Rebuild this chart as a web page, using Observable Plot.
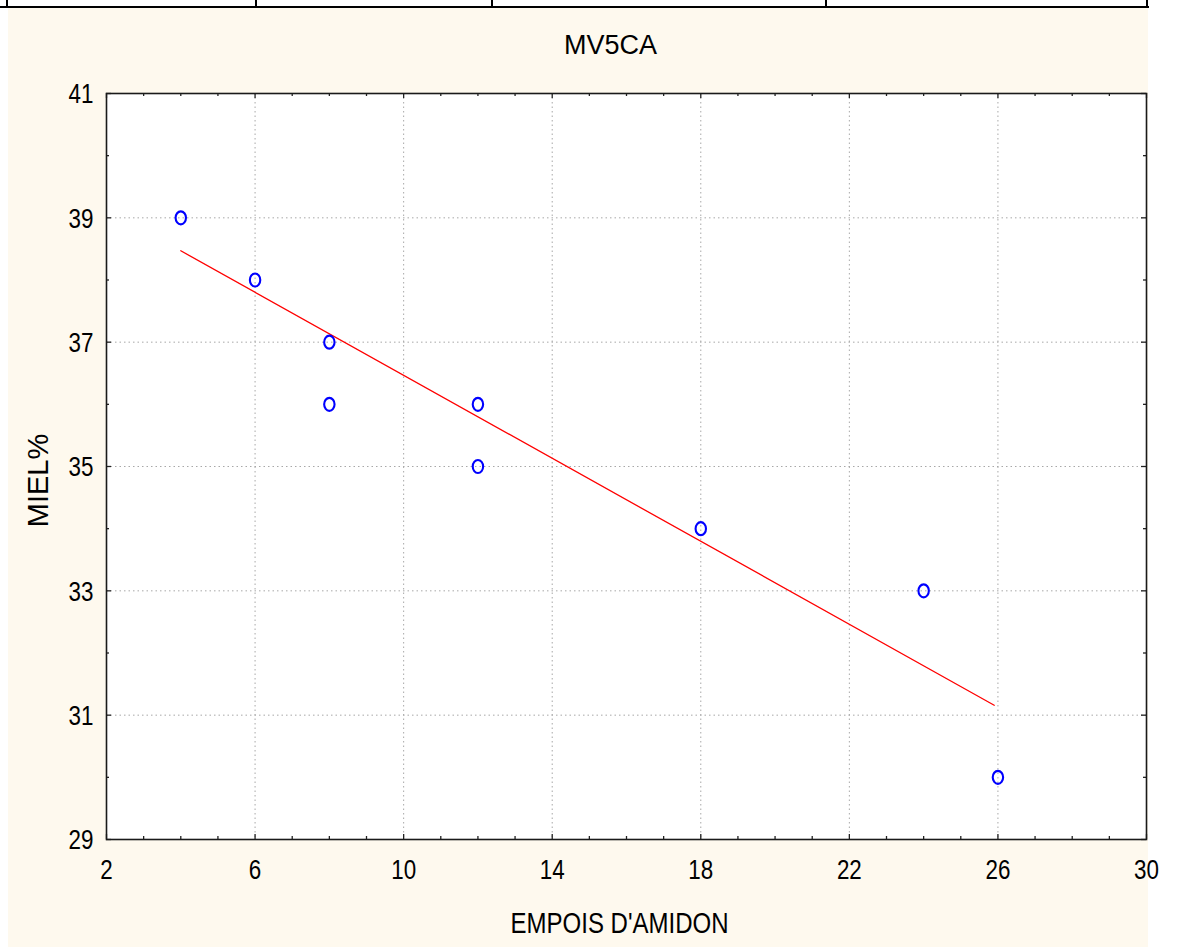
<!DOCTYPE html>
<html>
<head>
<meta charset="utf-8">
<script src="https://cdn.jsdelivr.net/npm/d3@7"></script>
<script src="https://cdn.jsdelivr.net/npm/@observablehq/plot@0.6"></script>
<style>
  html, body { margin: 0; padding: 0; background: #ffffff; }
  body { width: 1179px; height: 947px; position: relative; overflow: hidden; }
  .hline { position: absolute; left: 0; top: 6px; width: 1149px; height: 2px; background: #000; }
  .vline { position: absolute; top: 0; width: 2px; height: 8px; background: #000; }
  #panel { position: absolute; left: 8px; top: 8px; width: 1140px; height: 939px; background: #FEF9EE; }
  #chart { position: absolute; left: 0; top: 0; }
</style>
</head>
<body>
<div class="hline"></div>
<div class="vline" style="left:6px"></div>
<div class="vline" style="left:255px"></div>
<div class="vline" style="left:491px"></div>
<div class="vline" style="left:825px"></div>
<div class="vline" style="left:1146px"></div>
<div id="panel"><div id="chart"></div></div>
<script>
// ---- data ----
const chartTitle = "MV5CA";
const xLabel = "EMPOIS D'AMIDON";
const yLabel = "MIEL%";
const empois = [4, 6, 8, 8, 12, 12, 18, 24, 26];
const miel   = [39, 38, 37, 36, 36, 35, 34, 33, 30];
// fitted line end points
const fitX = [4, 25.9];
const fitY = [38.47, 31.16];
// ticks
const xMajor = [2, 6, 10, 14, 18, 22, 26, 30];
const yMajor = [29, 31, 33, 35, 37, 39, 41];
const xGrid = [6, 10, 14, 18, 22, 26];
const yGrid = [31, 33, 35, 37, 39];
const xMinor = [3, 4, 5, 7, 8, 9, 11, 12, 13, 15, 16, 17, 19, 20, 21, 23, 24, 25, 27, 28, 29];
const yMinor = [30, 32, 34, 36, 38, 40];

const points = empois.map((x, i) => ({x, y: miel[i]}));
const fit = fitX.map((x, i) => ({x, y: fitY[i]}));

const W = 1140, H = 939;
const mL = 98, mR = 2, mT = 85, mB = 108;
const FW = W - mL - mR, FH = H - mT - mB;

// open ellipse marker (fixed size, like the reference's "o" markers)
const ellipse = {
  draw(ctx) {
    const rx = 5.2, ry = 6.5, k = 0.5523;
    ctx.moveTo(rx, 0);
    ctx.bezierCurveTo(rx, ry * k, rx * k, ry, 0, ry);
    ctx.bezierCurveTo(-rx * k, ry, -rx, ry * k, -rx, 0);
    ctx.bezierCurveTo(-rx, -ry * k, -rx * k, -ry, 0, -ry);
    ctx.bezierCurveTo(rx * k, -ry, rx, -ry * k, rx, 0);
    ctx.closePath();
  }
};

const font = "'Liberation Sans', Arial, sans-serif";
const gridStyle = {stroke: "#a8a8a8", strokeOpacity: 1, strokeWidth: 1, strokeDasharray: "1.5,3"};
const tickStyle = {stroke: "#222", strokeWidth: 1.3};

const chart = Plot.plot({
  width: W, height: H,
  marginLeft: mL, marginRight: mR, marginTop: mT, marginBottom: mB,
  x: {domain: [2, 30], axis: null},
  y: {domain: [29, 41], axis: null},
  style: {background: "transparent", fontFamily: font, fontSize: "27px", color: "#000", overflow: "visible"},
  marks: [
    Plot.frame({fill: "#ffffff", stroke: null}),
    Plot.gridX(xGrid, gridStyle),
    Plot.gridY(yGrid, gridStyle),
    // inward minor ticks
    Plot.ruleX(xMinor, {...tickStyle, insetTop: FH - 3}),
    Plot.ruleX(xMinor, {...tickStyle, insetBottom: FH - 3}),
    Plot.ruleY(yMinor, {...tickStyle, insetRight: FW - 3}),
    Plot.ruleY(yMinor, {...tickStyle, insetLeft: FW - 3}),
    // inward major ticks
    Plot.ruleX(xMajor, {...tickStyle, insetTop: FH - 5}),
    Plot.ruleX(xMajor, {...tickStyle, insetBottom: FH - 5}),
    Plot.ruleY(yMajor, {...tickStyle, insetRight: FW - 5}),
    Plot.ruleY(yMajor, {...tickStyle, insetLeft: FW - 5}),
    Plot.frame({stroke: "#1a1a1a", strokeWidth: 1.6}),
    // tick labels
    Plot.text(xMajor, {x: d => d, frameAnchor: "bottom", dy: 31, textAnchor: "middle", lineAnchor: "middle", text: d => String(d), fontSize: 28, fill: "#000"}),
    Plot.text(yMajor, {y: d => d, frameAnchor: "left", dx: -13, dy: 1, textAnchor: "end", lineAnchor: "middle", text: d => String(d), fontSize: 28, fill: "#000"}),
    Plot.line(fit, {x: "x", y: "y", stroke: "#ff0000", strokeWidth: 1.3}),
    Plot.dot(points, {x: "x", y: "y", symbol: ellipse, stroke: "#0000ff", strokeWidth: 2.1, fill: "none"}),
    Plot.text([chartTitle], {frameAnchor: "top", textAnchor: "middle", lineAnchor: "middle", dx: -16, dy: -48, fontSize: 27, fill: "#000"}),
    Plot.text([xLabel], {frameAnchor: "bottom", textAnchor: "middle", lineAnchor: "middle", dx: -7, dy: 84, fontSize: 30, fill: "#000"}),
    Plot.text([yLabel], {frameAnchor: "left", textAnchor: "middle", lineAnchor: "middle", dx: -68, dy: 14, rotate: -90, fontSize: 29, fill: "#000"})
  ]
});
document.getElementById("chart").appendChild(chart);
// the reference uses a condensed face for tick labels and the x title
const narrowSet = new Set([...xMajor.map(String), ...yMajor.map(String), xLabel]);
chart.querySelectorAll("text").forEach(t => {
  if (!narrowSet.has(t.textContent)) return;
  const L = t.getComputedTextLength();
  if (L > 0) {
    t.setAttribute("textLength", (L * 0.8).toFixed(2));
    t.setAttribute("lengthAdjust", "spacingAndGlyphs");
  }
});
</script>
</body>
</html>
